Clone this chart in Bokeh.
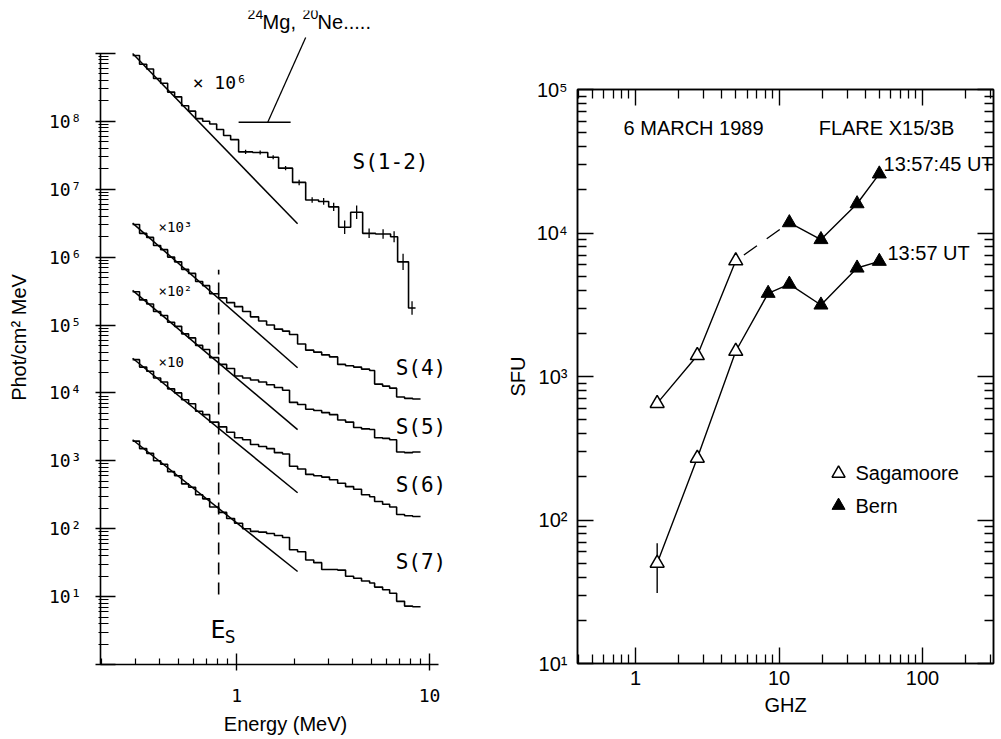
from bokeh.plotting import figure
from bokeh.models import Range1d, FixedTicker, LogAxis, Label, CustomJSTickFormatter
from bokeh.layouts import row
from bokeh.embed import file_html
from bokeh.resources import INLINE

# ---------------- Left panel: photon spectra (log10 of flux) ----------------
energy_edges = [0.289, 0.314, 0.342, 0.371, 0.404, 0.439, 0.477, 0.519, 0.564, 0.613,
                0.667, 0.725, 0.807, 0.888, 0.976, 1.074, 1.18, 1.30, 1.43, 1.57,
                1.73, 1.88, 2.07, 2.28, 2.51, 2.76, 3.03, 3.34, 3.67, 4.04,
                4.44, 4.89, 5.19, 5.71, 6.21, 6.75, 7.42, 8.17, 8.98]
s4_log = [6.48, 6.35, 6.29, 6.17, 6.11, 6.00, 5.93, 5.82, 5.76, 5.64, 5.58, 5.46,
          5.40, 5.33, 5.27, 5.20, 5.12, 5.06, 5.00, 4.94, 4.91, 4.86, 4.72, 4.63, 4.60,
          4.56, 4.53, 4.42, 4.40, 4.38, 4.35, 4.33, 4.13, 4.10, 4.07, 3.94, 3.92, 3.91]
s5_log = [5.49, 5.37, 5.31, 5.20, 5.14, 5.04, 4.98, 4.87, 4.81, 4.70, 4.64, 4.52,
          4.42, 4.36, 4.25, 4.22, 4.19, 4.16, 4.12, 4.08, 4.04, 3.86, 3.83, 3.76, 3.74,
          3.71, 3.68, 3.60, 3.57, 3.49, 3.47, 3.46, 3.34, 3.33, 3.31, 3.13, 3.12, 3.13]
s6_log = [4.49, 4.38, 4.32, 4.22, 4.16, 4.06, 4.00, 3.90, 3.84, 3.73, 3.68, 3.57,
          3.50, 3.42, 3.34, 3.31, 3.24, 3.21, 3.18, 3.12, 3.10, 2.92, 2.88, 2.80, 2.78,
          2.76, 2.72, 2.67, 2.62, 2.58, 2.50, 2.47, 2.40, 2.36, 2.32, 2.21, 2.19, 2.18]
s7_log = [3.29, 3.18, 3.11, 3.00, 2.95, 2.84, 2.78, 2.66, 2.61, 2.50, 2.44, 2.32,
          2.24, 2.15, 2.08, 2.00, 1.96, 1.95, 1.93, 1.90, 1.87, 1.69, 1.66, 1.54, 1.50,
          1.40, 1.40, 1.39, 1.30, 1.27, 1.23, 1.20, 1.14, 1.10, 1.05, 0.93, 0.86, 0.85]

energy_edges_12 = [0.289, 0.314, 0.342, 0.371, 0.404, 0.439, 0.477, 0.519, 0.564, 0.613,
                   0.667, 0.725, 0.788, 0.856, 0.931, 1.024, 1.21, 1.45, 1.65, 1.95,
                   2.28, 2.66, 3.00, 3.38, 3.90, 4.50, 5.25, 6.28, 6.83, 7.78, 8.46]
s12_log = [8.97, 8.84, 8.77, 8.63, 8.56, 8.43, 8.36, 8.23, 8.15, 8.04, 8.00, 7.96, 7.88,
           7.79, 7.73, 7.55, 7.54, 7.47, 7.31, 7.10, 6.84, 6.82, 6.74, 6.44, 6.66, 6.35,
           6.34, 6.30, 5.93, 5.25]
s12_err = [0, 0, 0, 0, 0, 0, 0, 0, 0, 0, 0, 0, 0, 0, 0,
           0.03, 0.03, 0.03, 0.03, 0.04, 0.04, 0.05, 0.06, 0.10, 0.10, 0.07, 0.07, 0.08,
           0.12, 0.10]

# power-law fits (log10 flux at the two end energies)
fit_energy = [0.289, 2.07]
fit_s12 = [9.0, 6.49]
fit_s4 = [6.5, 4.37]
fit_s5 = [5.51, 3.46]
fit_s6 = [4.51, 2.53]
fit_s7 = [3.31, 1.37]

es_energy = 0.807
es_span = [10.7, 6.5e5]
mg_band = [1.024, 1.905]
mg_level = 9.7e7
mg_leader = [[1.45, 9.7e7], [2.28, 1.72e9]]

y1_ticks = [1.0, 1e1, 1e2, 1e3, 1e4, 1e5, 1e6, 1e7, 1e8, 1e9]
y1_labels = ["", "10¹", "10²", "10³", "10⁴", "10⁵", "10⁶", "10⁷", "10⁸", ""]
x1_ticks = [1.0, 10.0]
x1_labels = ["1", "10"]

# ---------------- Right panel: radio spectrum ----------------
sag_freq = [1.415, 2.695, 4.995]
sag_upper = [650, 1400, 6400]
sag_lower = [50, 270, 1500]
sag_lower_err = [31, 69]
bern_freq_upper = [11.8, 19.6, 35.0, 50.0]
bern_upper = [11800, 9000, 16000, 25800]
bern_freq_lower = [8.4, 11.8, 19.6, 35.0, 50.0]
bern_lower = [3800, 4400, 3150, 5700, 6350]

y2_ticks = [1e1, 1e2, 1e3, 1e4, 1e5]
y2_labels = ["10¹", "10²", "10³", "10⁴", "10⁵"]
x2_ticks = [1.0, 10.0, 100.0]
x2_labels = ["1", "10", "100"]

MONO = "DejaVu Sans Mono"
SANS = "Liberation Sans"


def fmt(vals, labs):
    return CustomJSTickFormatter(args=dict(vals=vals, labs=labs), code="""
        for (let i = 0; i < vals.length; i++) {
            if (Math.abs(Math.log10(tick) - Math.log10(vals[i])) < 1e-6) { return labs[i]; }
        }
        return "";
    """)


def minor(decades, mults):
    return [m * 10.0 ** d for d in decades for m in mults]


def lab(p, x, y, text, size, font=MONO, align="left", baseline="middle", xo=0, yo=0):
    p.add_layout(Label(x=x, y=y, text=text, text_font=font, text_font_size=size,
                       text_color="black", text_align=align, text_baseline=baseline,
                       x_offset=xo, y_offset=yo))


# ================= LEFT FIGURE =================
W1 = 490
p1 = figure(width=W1, height=739, x_axis_type="log", y_axis_type="log",
            x_range=Range1d(0.197, 16.3), y_range=Range1d(1, 10 ** 9.632),
            output_backend="svg", toolbar_location=None,
            min_border_left=100, min_border_right=20, min_border_top=10, min_border_bottom=75)
p1.frame_align = False
p1.outline_line_color = None
p1.grid.visible = False

for ax in (p1.xaxis[0], p1.yaxis[0]):
    ax.axis_line_width = 1.6
    ax.major_tick_line_width = 1.4
    ax.minor_tick_line_width = 1.2
    ax.major_label_text_font = MONO
    ax.major_label_text_font_size = "18px"
    ax.major_label_text_color = "black"
    ax.axis_label_text_font = SANS
    ax.axis_label_text_font_style = "normal"
    ax.axis_label_text_font_size = "20px"
    ax.axis_label_text_color = "black"

p1.yaxis.ticker = FixedTicker(ticks=y1_ticks, minor_ticks=minor(range(0, 9), range(2, 10)))
p1.yaxis.formatter = fmt(y1_ticks, y1_labels)
p1.yaxis.bounds = (1, 1e9)
p1.yaxis.major_tick_in = 15
p1.yaxis.major_tick_out = 5
p1.yaxis.minor_tick_in = 8
p1.yaxis.minor_tick_out = 2
p1.yaxis.major_label_standoff = 14
p1.yaxis.axis_label = "Phot/cm² MeV"
p1.yaxis.axis_label_standoff = 16

p1.xaxis.ticker = FixedTicker(ticks=x1_ticks, minor_ticks=minor([-1, 0], range(2, 10)))
p1.xaxis.formatter = fmt(x1_ticks, x1_labels)
p1.xaxis.bounds = (0.19, 11.1)
p1.xaxis.major_tick_in = 11
p1.xaxis.major_tick_out = 6
p1.xaxis.minor_tick_in = 6
p1.xaxis.minor_tick_out = 0
p1.xaxis.major_label_standoff = 18
p1.xaxis.axis_label = "Energy (MeV)"
p1.xaxis.axis_label_standoff = 8

# histograms
for edges, logs in ((energy_edges_12, s12_log), (energy_edges, s4_log), (energy_edges, s5_log),
                    (energy_edges, s6_log), (energy_edges, s7_log)):
    ys = [10 ** v for v in logs] + [10 ** logs[-1]]
    p1.step(edges, ys, mode="after", line_color="black", line_width=1.6)

# error bars on S(1-2)
ex, y0, y1 = [], [], []
for i, e in enumerate(s12_err):
    if e > 0:
        c = (energy_edges_12[i] * energy_edges_12[i + 1]) ** 0.5
        ex.append(c)
        y0.append(10 ** (s12_log[i] - e))
        y1.append(10 ** (s12_log[i] + e))
p1.segment(ex, y0, ex, y1, line_color="black", line_width=1.3)

# fits
for f in (fit_s12, fit_s4, fit_s5, fit_s6, fit_s7):
    p1.line(fit_energy, [10 ** f[0], 10 ** f[1]], line_color="black", line_width=1.5)

# Es line
p1.line([es_energy, es_energy], es_span, line_color="black", line_width=1.6, line_dash="12 8")

# Mg/Ne band
p1.line(mg_band, [mg_level, mg_level], line_color="black", line_width=1.5)
p1.line([mg_leader[0][0], mg_leader[1][0]], [mg_leader[0][1], mg_leader[1][1]],
        line_color="black", line_width=1.3)

# "24Mg, 20Ne....." with raised mass numbers
mg_x, mg_y = 1.14, 2.9e9
lab(p1, mg_x, mg_y, "24", "14px", font=SANS, baseline="alphabetic", xo=0, yo=8)
lab(p1, mg_x, mg_y, "Mg,", "20px", font=SANS, baseline="alphabetic", xo=15)
lab(p1, mg_x, mg_y, "20", "14px", font=SANS, baseline="alphabetic", xo=55, yo=8)
lab(p1, mg_x, mg_y, "Ne.....", "20px", font=SANS, baseline="alphabetic", xo=70)

lab(p1, 0.592, 3.75e8, "× 10⁶", "18px")
lab(p1, 0.394, 2.76e6, "×10³", "14px")
lab(p1, 0.394, 3.16e5, "×10²", "14px")
lab(p1, 0.394, 2.86e4, "×10", "14px")
lab(p1, 3.99, 2.5e7, "S(1-2)", "21px")
lab(p1, 6.67, 2.33e4, "S(4)", "21px")
lab(p1, 6.67, 3.16e3, "S(5)", "21px")
lab(p1, 6.67, 444, "S(6)", "21px")
lab(p1, 6.67, 32.7, "S(7)", "21px")
lab(p1, 0.733, 3.27, "E", "25px")
lab(p1, 0.867, 2.6, "S", "18px")

# ================= RIGHT FIGURE =================
p2 = figure(width=1001 - W1, height=739, x_axis_type="log", y_axis_type="log",
            x_range=Range1d(0.394, 312.5), y_range=Range1d(10, 1e5),
            output_backend="svg", toolbar_location=None,
            min_border_left=577 - W1, min_border_right=8, min_border_top=89, min_border_bottom=76)
p2.frame_align = False
p2.grid.visible = False
p2.outline_line_color = "black"
p2.outline_line_width = 1.5

x2_minor = minor([-1, 0, 1], range(2, 10)) + [200.0, 300.0]
y2_minor = minor([1, 2, 3, 4], range(2, 10))

for ax in (p2.xaxis[0], p2.yaxis[0]):
    ax.axis_line_width = 1.5
    ax.major_tick_line_width = 1.4
    ax.minor_tick_line_width = 1.3
    ax.major_tick_in = 16
    ax.major_tick_out = 0
    ax.minor_tick_in = 9
    ax.minor_tick_out = 0
    ax.major_label_text_font = SANS
    ax.major_label_text_font_size = "20px"
    ax.major_label_text_color = "black"
    ax.axis_label_text_font = SANS
    ax.axis_label_text_font_size = "20px"
    ax.axis_label_text_font_style = "normal"
    ax.axis_label_text_color = "black"

p2.xaxis.ticker = FixedTicker(ticks=x2_ticks, minor_ticks=x2_minor)
p2.xaxis.formatter = fmt(x2_ticks, x2_labels)
p2.xaxis.major_label_standoff = 7
p2.xaxis.axis_label = "GHZ"
p2.xaxis.axis_label_standoff = 6
p2.yaxis.ticker = FixedTicker(ticks=y2_ticks, minor_ticks=y2_minor)
p2.yaxis.formatter = fmt(y2_ticks, y2_labels)
p2.yaxis.major_label_standoff = 10
p2.yaxis.axis_label = "SFU"
p2.yaxis.axis_label_standoff = 5

top_ax = LogAxis(ticker=FixedTicker(ticks=x2_ticks, minor_ticks=x2_minor),
                 formatter=CustomJSTickFormatter(code="return ''"))
right_ax = LogAxis(ticker=FixedTicker(ticks=y2_ticks, minor_ticks=y2_minor),
                   formatter=CustomJSTickFormatter(code="return ''"))
for ax in (top_ax, right_ax):
    ax.axis_line_width = 1.5
    ax.major_tick_line_width = 1.4
    ax.minor_tick_line_width = 1.3
    ax.major_tick_in = 16
    ax.major_tick_out = 0
    ax.minor_tick_in = 9
    ax.minor_tick_out = 0
    ax.major_label_text_font_size = "0px"
    ax.major_label_standoff = 0
p2.add_layout(top_ax, "above")
p2.add_layout(right_ax, "right")

# lines
p2.line(sag_freq, sag_upper, line_color="black", line_width=1.4)
p2.line([sag_freq[-1], bern_freq_upper[0]], [sag_upper[-1], bern_upper[0]],
        line_color="black", line_width=1.4, line_dash="16 12", line_dash_offset=18)
p2.line(bern_freq_upper, bern_upper, line_color="black", line_width=1.4)
p2.line(sag_freq + bern_freq_lower, sag_lower + bern_lower, line_color="black", line_width=1.4)
p2.segment([sag_freq[0]], [sag_lower_err[0]], [sag_freq[0]], [sag_lower_err[1]],
           line_color="black", line_width=1.4)

# markers
p2.scatter(sag_freq, sag_upper, marker="triangle", size=14, fill_color="white",
           line_color="black", line_width=1.5)
p2.scatter(sag_freq, sag_lower, marker="triangle", size=14, fill_color="white",
           line_color="black", line_width=1.5)
p2.scatter(bern_freq_upper, bern_upper, marker="triangle", size=14, fill_color="black",
           line_color="black")
p2.scatter(bern_freq_lower, bern_lower, marker="triangle", size=14, fill_color="black",
           line_color="black")

# legend (manual)
legend_x = [26.0, 26.0]
legend_y = [211, 126]
p2.scatter([legend_x[0]], [legend_y[0]], marker="triangle", size=13, fill_color="white",
           line_color="black", line_width=1.5)
p2.scatter([legend_x[1]], [legend_y[1]], marker="triangle", size=13, fill_color="black",
           line_color="black")
lab(p2, 34.1, 211, "Sagamoore", "20px", font=SANS)
lab(p2, 34.1, 126, "Bern", "20px", font=SANS)

lab(p2, 0.825, 53500, "6 MARCH 1989", "20px", font=SANS)
lab(p2, 18.9, 53500, "FLARE X15/3B", "20px", font=SANS)
lab(p2, 53.5, 30500, "13:57:45 UT", "20px", font=SANS)
lab(p2, 57.0, 7310, "13:57 UT", "20px", font=SANS)

layout = row(p1, p2)
open("out.html", "w").write(file_html(layout, INLINE))
